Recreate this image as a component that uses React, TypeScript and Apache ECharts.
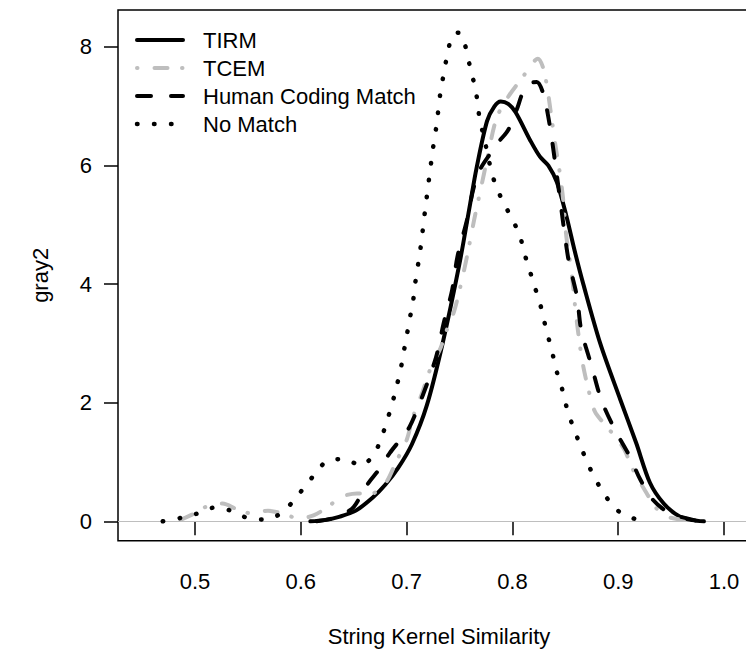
import React, { useEffect, useRef } from "react";
import * as echarts from "echarts";

const seriesNames = ["TIRM", "TCEM", "Human Coding Match", "No Match"];
const xTickValues = [0.5, 0.6, 0.7, 0.8, 0.9, 1.0];
const yTickValues = [0, 2, 4, 6, 8];
const xTitle = "String Kernel Similarity";
const yTitle = "gray2";

const tirmX = [0.609, 0.622, 0.637, 0.652, 0.668, 0.68, 0.692, 0.705, 0.719, 0.734, 0.75, 0.76, 0.766, 0.776, 0.783, 0.789, 0.796, 0.803, 0.817, 0.826, 0.834, 0.842, 0.851, 0.859, 0.867, 0.883, 0.902, 0.917, 0.93, 0.943, 0.958, 0.97, 0.981];
const tirmY = [0, 0.02, 0.08, 0.18, 0.4, 0.62, 0.9, 1.3, 1.95, 3.0, 4.35, 5.35, 5.95, 6.75, 7.0, 7.08, 7.04, 6.9, 6.42, 6.15, 6.0, 5.72, 5.15, 4.55, 4.0, 3.0, 2.05, 1.32, 0.65, 0.3, 0.08, 0.02, 0];

const tcemX = [0.4695, 0.486, 0.498, 0.511, 0.526, 0.54, 0.554, 0.569, 0.583, 0.598, 0.612, 0.626, 0.638, 0.653, 0.667, 0.68, 0.69, 0.7, 0.706, 0.714, 0.722, 0.732, 0.739, 0.745, 0.752, 0.758, 0.764, 0.77, 0.776, 0.785, 0.796, 0.81, 0.82, 0.824, 0.829, 0.833, 0.837, 0.841, 0.845, 0.848, 0.851, 0.856, 0.86, 0.864, 0.867, 0.872, 0.878, 0.889, 0.897, 0.906, 0.914, 0.927, 0.936, 0.946, 0.962, 0.972];
const tcemY = [0, 0.03, 0.12, 0.25, 0.3, 0.2, 0.13, 0.18, 0.13, 0.05, 0.1, 0.25, 0.41, 0.47, 0.47, 0.64, 1.0, 1.37, 1.76, 2.13, 2.55, 2.92, 3.28, 3.55, 4.05, 4.55, 5.1, 5.6, 6.1, 6.8, 7.16, 7.5, 7.75, 7.8, 7.65, 7.3, 6.8, 6.3, 5.85, 5.42, 4.8, 4.18, 3.5, 2.94, 2.61, 2.21, 1.85, 1.6, 1.43, 1.2, 0.87, 0.47, 0.22, 0.08, 0.02, 0];

const humanX = [0.615, 0.63, 0.642, 0.65, 0.662, 0.675, 0.684, 0.695, 0.703, 0.716, 0.728, 0.735, 0.743, 0.748, 0.757, 0.763, 0.769, 0.779, 0.787, 0.796, 0.804, 0.81, 0.816, 0.823, 0.829, 0.835, 0.84, 0.846, 0.853, 0.861, 0.865, 0.875, 0.884, 0.897, 0.911, 0.921, 0.933, 0.949, 0.965, 0.976];
const humanY = [0, 0.05, 0.14, 0.24, 0.6, 0.9, 1.15, 1.4, 1.6, 2.16, 2.78, 3.34, 3.9, 4.46, 5.08, 5.6, 5.92, 6.2, 6.4, 6.6, 6.94, 7.24, 7.38, 7.41, 7.22, 6.71, 6.1, 5.3, 4.41, 3.79, 3.23, 2.61, 2.05, 1.54, 1.09, 0.7, 0.36, 0.13, 0.05, 0];

const noMatchX = [0.4695, 0.487, 0.502, 0.518, 0.534, 0.549, 0.566, 0.58, 0.593, 0.603, 0.614, 0.625, 0.641, 0.657, 0.669, 0.676, 0.681, 0.686, 0.69, 0.694, 0.697, 0.7, 0.703, 0.706, 0.708, 0.713, 0.717, 0.721, 0.725, 0.728, 0.732, 0.735, 0.738, 0.742, 0.747, 0.751, 0.755, 0.76, 0.764, 0.767, 0.769, 0.773, 0.78, 0.785, 0.792, 0.8, 0.807, 0.811, 0.816, 0.821, 0.826, 0.83, 0.834, 0.838, 0.842, 0.847, 0.851, 0.856, 0.862, 0.868, 0.875, 0.883, 0.892, 0.904, 0.92];
const noMatchY = [0, 0.06, 0.13, 0.23, 0.18, 0.06, 0.03, 0.12, 0.34, 0.57, 0.81, 1.02, 1.05, 0.94, 1.13, 1.4, 1.67, 1.96, 2.24, 2.53, 2.83, 3.12, 3.42, 3.7, 4.0, 4.59, 5.18, 5.75, 6.3, 6.65, 7.24, 7.54, 7.83, 8.13, 8.24, 8.23, 8.05, 7.66, 7.37, 7.08, 6.78, 6.49, 5.91, 5.63, 5.36, 5.09, 4.82, 4.54, 4.25, 3.96, 3.68, 3.38, 3.1, 2.82, 2.52, 2.23, 1.94, 1.66, 1.38, 1.11, 0.83, 0.57, 0.33, 0.12, 0.02];

const seriesXs = [tirmX, tcemX, humanX, noMatchX];
const seriesYs = [tirmY, tcemY, humanY, noMatchY];

const FONT = "'Liberation Sans', Arial, Helvetica, sans-serif";
const styles = [
  { color: "#000000", width: 4, dash: "solid" as any, legendDash: null as any },
  { color: "#BEBEBE", width: 4, dash: [0.5, 17, 13, 14.5], legendDash: [0.5, 17, 13, 14.5] },
  { color: "#000000", width: 4, dash: [14, 20], legendDash: [14, 20] },
  { color: "#000000", width: 4.5, dash: [0.5, 16.5], legendDash: [0.5, 16.5] },
];

export default function App() {
  const ref = useRef<HTMLDivElement>(null);
  useEffect(() => {
    if (!ref.current) return;
    const chart = echarts.init(ref.current, undefined, { renderer: "svg" });
    const gridLeft = 118;
    const gridTop = 10;
    const gridWidth = 642;
    const gridHeight = 530.7;
    const xMin = 0.4272;
    const xMax = xMin + gridWidth / 1058;
    const yMin = -0.327;
    const yMax = yMin + gridHeight / 59.29;

    const series: any[] = seriesNames.map((name, i) => {
      const s: any = {
        name,
        type: "line",
        data: seriesXs[i].map((x, k) => [x, seriesYs[i][k]]),
        showSymbol: false,
        symbol: "none",
        smooth: 0.3,
        silent: true,
        lineStyle: {
          color: styles[i].color,
          width: styles[i].width,
          type: styles[i].dash,
          cap: "round",
          join: "round",
        },
        z: 3 + i,
      };
      if (i === 0) {
        s.markLine = {
          silent: true,
          symbol: ["none", "none"],
          label: { show: false },
          lineStyle: { color: "#BEBEBE", width: 1, type: "solid" },
          data: [{ yAxis: 0 }],
          z: 1,
        };
      }
      return s;
    });

    const legendRows = [40, 68, 96, 124];
    const graphic: any[] = [];
    seriesNames.forEach((name, i) => {
      graphic.push({
        type: "line",
        shape: { x1: 137, y1: legendRows[i], x2: 183, y2: legendRows[i] },
        style: {
          stroke: styles[i].color,
          lineWidth: styles[i].width,
          lineDash: styles[i].legendDash,
          lineCap: "round",
        },
        z: 10,
      });
      graphic.push({
        type: "text",
        x: 203,
        y: legendRows[i],
        style: {
          text: name,
          fill: "#000",
          fontSize: 22,
          fontFamily: FONT,
          verticalAlign: "middle",
          align: "left",
        },
        z: 10,
      });
    });

    chart.setOption({
      animation: false,
      backgroundColor: "#ffffff",
      grid: {
        left: gridLeft,
        top: gridTop,
        width: gridWidth,
        height: gridHeight,
        show: true,
        borderColor: "#000",
        borderWidth: 1.5,
        backgroundColor: "transparent",
      },
      xAxis: {
        type: "value",
        min: xMin,
        max: xMax,
        name: xTitle,
        nameLocation: "middle",
        nameGap: 85,
        nameTextStyle: { color: "#000", fontSize: 22, fontFamily: FONT },
        axisLine: { show: false },
        splitLine: { show: false },
        axisTick: {
          show: true,
          inside: false,
          length: 14,
          customValues: xTickValues,
          lineStyle: { color: "#000", width: 1.5 },
        },
        axisLabel: {
          show: true,
          customValues: xTickValues,
          margin: 30,
          color: "#000",
          fontSize: 22,
          fontFamily: FONT,
          formatter: (v: number) => v.toFixed(1),
        },
      },
      yAxis: {
        type: "value",
        min: yMin,
        max: yMax,
        name: yTitle,
        nameLocation: "middle",
        nameGap: 67,
        nameRotate: 90,
        nameTextStyle: { color: "#000", fontSize: 22, fontFamily: FONT },
        axisLine: { show: false },
        splitLine: { show: false },
        axisTick: {
          show: true,
          inside: false,
          length: 14,
          customValues: yTickValues,
          lineStyle: { color: "#000", width: 1.5 },
        },
        axisLabel: {
          show: true,
          customValues: yTickValues,
          margin: 26,
          color: "#000",
          fontSize: 22,
          fontFamily: FONT,
          formatter: (v: number) => String(Math.round(v)),
        },
      },
      series,
      graphic,
    });
    return () => chart.dispose();
  }, []);

  return (
    <div
      style={{
        position: "absolute",
        left: 0,
        top: 0,
        width: 746,
        height: 658,
        overflow: "hidden",
        background: "#fff",
      }}
    >
      <div ref={ref} style={{ width: 780, height: 658 }} />
    </div>
  );
}
